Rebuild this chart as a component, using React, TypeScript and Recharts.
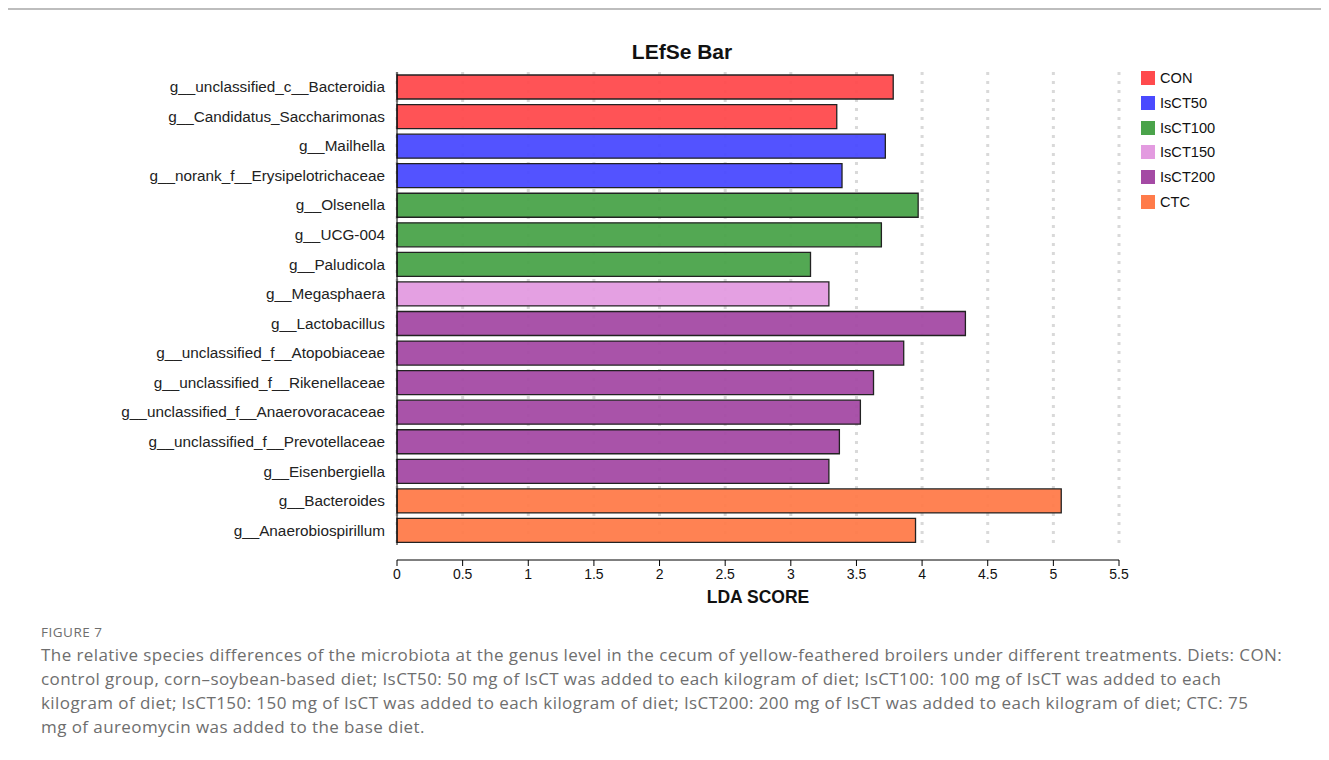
import { BarChart, Bar, Cell, XAxis, YAxis, CartesianGrid } from 'recharts';

const genera = [
  'g__unclassified_c__Bacteroidia',
  'g__Candidatus_Saccharimonas',
  'g__Mailhella',
  'g__norank_f__Erysipelotrichaceae',
  'g__Olsenella',
  'g__UCG-004',
  'g__Paludicola',
  'g__Megasphaera',
  'g__Lactobacillus',
  'g__unclassified_f__Atopobiaceae',
  'g__unclassified_f__Rikenellaceae',
  'g__unclassified_f__Anaerovoracaceae',
  'g__unclassified_f__Prevotellaceae',
  'g__Eisenbergiella',
  'g__Bacteroides',
  'g__Anaerobiospirillum',
];

const ldaScores = [3.78, 3.35, 3.72, 3.39, 3.97, 3.69, 3.15, 3.29, 4.33, 3.86, 3.63, 3.53, 3.37, 3.29, 5.06, 3.95];

const groupOf = ['CON', 'CON', 'IsCT50', 'IsCT50', 'IsCT100', 'IsCT100', 'IsCT100', 'IsCT150', 'IsCT200', 'IsCT200', 'IsCT200', 'IsCT200', 'IsCT200', 'IsCT200', 'CTC', 'CTC'];

const groups = ['CON', 'IsCT50', 'IsCT100', 'IsCT150', 'IsCT200', 'CTC'];
const groupColors: Record<string, string> = {
  CON: '#ff4a4d',
  IsCT50: '#4a4aff',
  IsCT100: '#4aa34a',
  IsCT150: '#e39be0',
  IsCT200: '#a44aa4',
  CTC: '#ff7b4a',
};

const xTicks = [0, 0.5, 1, 1.5, 2, 2.5, 3, 3.5, 4, 4.5, 5, 5.5];

const rows = genera.map((name, i) => ({ name, score: ldaScores[i], group: groupOf[i] }));

const captionLines = [
  'The relative species differences of the microbiota at the genus level in the cecum of yellow-feathered broilers under different treatments. Diets: CON:',
  'control group, corn\u2013soybean-based diet; IsCT50: 50 mg of IsCT was added to each kilogram of diet; IsCT100: 100 mg of IsCT was added to each',
  'kilogram of diet; IsCT150: 150 mg of IsCT was added to each kilogram of diet; IsCT200: 200 mg of IsCT was added to each kilogram of diet; CTC: 75',
  'mg of aureomycin was added to the base diet.',
];

// x axis sits a little below the last bar, as in LEfSe output
const AXIS_GAP = 15;

export default function App() {
  return (
    <div
      style={{
        position: 'relative',
        width: 1321,
        height: 752,
        marginLeft: -1,
        borderTop: '2px solid #bdbdbd',
        borderLeft: '1px solid #a8a8a8',
        fontFamily: 'Arial, "Liberation Sans", sans-serif',
        background: '#fff',
      }}
    >
      {/* title */}
      <div
        style={{
          position: 'absolute',
          left: 0,
          top: 30,
          width: 1348,
          textAlign: 'center',
          fontSize: 21,
          fontWeight: 'bold',
          color: '#111',
        }}
      >
        LEfSe Bar
      </div>

      <div style={{ position: 'absolute', left: 0, top: 0 }}>
        <BarChart
          layout="vertical"
          width={1321}
          height={600}
          data={rows}
          margin={{ top: 62, right: 210, bottom: 5, left: 0 }}
          barSize={24}
        >
          <CartesianGrid
            horizontal={false}
            stroke="#d9d9d9"
            strokeWidth={3}
            strokeDasharray="3 6"
          />
          <XAxis
            type="number"
            domain={[0, 5.5]}
            ticks={xTicks}
            interval={0}
            height={60}
            axisLine={{ stroke: '#000', strokeWidth: 1, transform: `translate(0, ${AXIS_GAP})` }}
            tickLine={{ stroke: '#000', strokeWidth: 1, transform: `translate(0, ${AXIS_GAP})` }}
            tickSize={6}
            tickMargin={AXIS_GAP + 3}
            tick={{ fill: '#111', fontSize: 14 }}
            label={{ value: 'LDA SCORE', position: 'insideBottom', offset: 2, fill: '#111', fontSize: 17.5, fontWeight: 'bold' }}
          />
          <YAxis
            type="category"
            dataKey="name"
            width={389}
            interval={0}
            axisLine={{ stroke: '#000', strokeWidth: 1 }}
            tickLine={false}
            tickMargin={6}
            tick={{ fill: '#222', fontSize: 15.3 }}
          />
          <Bar dataKey="score" stroke="#222" strokeWidth={1.3} fillOpacity={0.95} isAnimationActive={false}>
            {rows.map((r) => (
              <Cell key={r.name} fill={groupColors[r.group]} />
            ))}
          </Bar>
        </BarChart>
      </div>

      {/* group legend */}
      <div style={{ position: 'absolute', left: 1133, top: 56 }}>
        {groups.map((g) => (
          <div key={g} style={{ display: 'flex', alignItems: 'center', height: 24.7 }}>
            <div style={{ width: 14, height: 14, background: groupColors[g], marginRight: 5 }} />
            <span style={{ fontSize: 14.6, color: '#111' }}>{g}</span>
          </div>
        ))}
      </div>

      {/* figure caption */}
      <div
        style={{
          position: 'absolute',
          left: 33,
          top: 612,
          fontFamily: '"Open Sans", Lato, sans-serif',
          color: '#6e6e6e',
        }}
      >
        <div style={{ fontSize: 13.5, lineHeight: '20px', marginBottom: 1, letterSpacing: 0.5 }}>FIGURE 7</div>
        {captionLines.map((line) => (
          <div key={line} style={{ fontSize: 17, lineHeight: '24px', whiteSpace: 'nowrap', letterSpacing: 0.42 }}>
            {line}
          </div>
        ))}
      </div>
    </div>
  );
}
